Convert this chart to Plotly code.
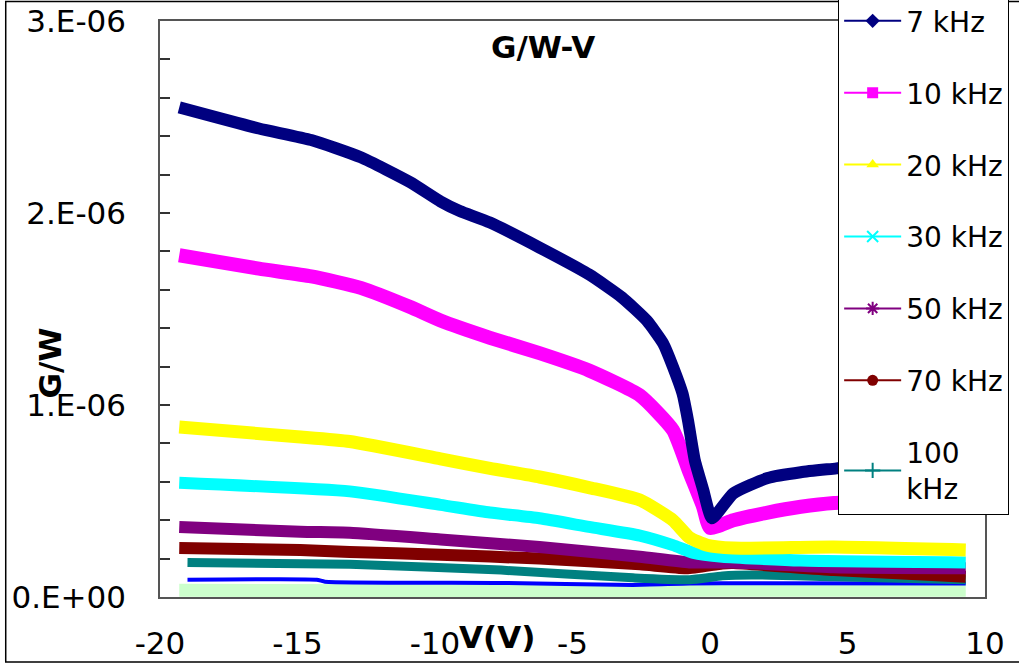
import plotly.graph_objects as go

SCALE = 1e-6  # values below are in units of 1e-6

# ---- data, G/W in 1e-6 units ----
V7 = [-19.3, -16.4, -14.5, -12.7, -10.9, -9.8, -9.1, -8.0, -6.2, -4.4, -3.2, -2.3, -1.7, -1.35, -1.0, -0.8, -0.55, -0.25, 0.07, 0.85, 2.1, 3.3, 4.6, 6.5, 9.3]
G7 = [2.55, 2.44, 2.38, 2.29, 2.16, 2.06, 2.01, 1.95, 1.82, 1.68, 1.56, 1.44, 1.32, 1.20, 1.06, 0.92, 0.71, 0.56, 0.41, 0.54, 0.62, 0.65, 0.67, 0.70, 0.72]

V10 = [-19.3, -16.4, -14.5, -12.7, -10.9, -9.8, -8.0, -6.2, -4.4, -2.55, -1.35, -0.75, -0.25, 0.0, 0.85, 2.1, 3.3, 4.5, 6.5, 9.3]
G10 = [1.78, 1.71, 1.67, 1.61, 1.51, 1.44, 1.35, 1.27, 1.18, 1.05, 0.87, 0.65, 0.47, 0.36, 0.40, 0.44, 0.47, 0.49, 0.50, 0.51]

V20 = [-19.3, -15.0, -13.1, -9.8, -8.0, -6.2, -4.4, -2.55, -1.35, -0.75, -0.1, 0.85, 4.5, 9.3]
G20 = [0.885, 0.835, 0.81, 0.72, 0.67, 0.625, 0.57, 0.505, 0.40, 0.31, 0.27, 0.255, 0.26, 0.245]

V30 = [-19.3, -13.1, -9.8, -8.0, -6.2, -4.4, -2.55, -1.35, -0.6, 0.45, 3.3, 9.3]
G30 = [0.595, 0.55, 0.48, 0.44, 0.41, 0.365, 0.32, 0.27, 0.23, 0.21, 0.19, 0.18]

V50 = [-19.3, -14.9, -13.1, -9.8, -6.2, -2.55, -0.75, 0.85, 4.5, 9.3]
G50 = [0.365, 0.34, 0.335, 0.30, 0.26, 0.21, 0.18, 0.18, 0.155, 0.15]

V70 = [-19.3, -14.9, -13.1, -9.8, -6.2, -2.55, -0.85, 0.45, 0.85, 4.5, 9.3]
G70 = [0.255, 0.245, 0.235, 0.22, 0.20, 0.17, 0.15, 0.175, 0.177, 0.14, 0.105]

V100 = [-19.0, -13.1, -7.6, -2.8, -0.75, 0.45, 1.5, 4.5, 9.3]
G100 = [0.18, 0.17, 0.14, 0.10, 0.09, 0.11, 0.115, 0.105, 0.09]

VB = [-19.0, -14.3, -14.0, -7.6, -2.8, -0.75, 1.5, 9.3]
GB = [0.09, 0.09, 0.08, 0.073, 0.063, 0.07, 0.072, 0.07]

VL = [-19.3, -10.0, 0.0, 9.3]
GL = [0.035, 0.033, 0.035, 0.035]

LEGEND_NAMES = ["7 kHz", "10 kHz", "20 kHz", "30 kHz", "50 kHz", "70 kHz", "100<br>kHz"]
X_TICKS = [-20, -15, -10, -5, 0, 5, 10]
X_TICKTEXT = ["-20", "-15", "-10", "-5", "0", "5", "10"]
Y_TICKVALS = [0, 1, 2, 3]
Y_TICKTEXT = ["0.E+00", "1.E-06", "2.E-06", "3.E-06"]

FONT = "DejaVu Sans, Liberation Sans, Arial, sans-serif"

series = [
    # (x, y, color, width, legend index or None, symbol)
    (VL, GL, "#CCFFCC", 13, None, None),
    (VB, GB, "#0000FF", 4, None, None),
    (V100, G100, "#008080", 9, 6, "cross-thin"),
    (V70, G70, "#800000", 12, 5, "circle"),
    (V50, G50, "#800080", 12, 4, "asterisk"),
    (V30, G30, "#00FFFF", 12, 3, "x-thin"),
    (V20, G20, "#FFFF00", 13, 2, "triangle-up"),
    (V10, G10, "#FF00FF", 14, 1, "square"),
    (V7, G7, "#000080", 12, 0, "diamond"),
]

fig = go.Figure()
for xs, ys, col, w, li, sym in series:
    fig.add_trace(go.Scatter(
        x=xs, y=[v * SCALE for v in ys], mode="lines",
        line=dict(color=col, width=w, shape="spline", smoothing=0.5),
        showlegend=False, hoverinfo="skip"))

# legend entries (line + marker), in legend order
leg = sorted([s for s in series if s[4] is not None], key=lambda s: s[4])
for xs, ys, col, w, li, sym in leg:
    open_sym = sym in ("cross-thin", "x-thin", "asterisk")
    fig.add_trace(go.Scatter(
        x=[None], y=[None], mode="lines+markers", name=LEGEND_NAMES[li],
        legendgroup=str(li),
        line=dict(color=col, width=2),
        marker=dict(symbol=sym, color=col, size=11,
                    line=dict(color=col, width=2 if open_sym else 0))))

fig.update_layout(
    width=1019, height=666,
    margin=dict(l=160, r=34, t=21, b=69, autoexpand=False),
    paper_bgcolor="white", plot_bgcolor="white",
    font=dict(family=FONT, size=31, color="black"),
    legend=dict(x=0.822, xanchor="left", y=1.045, yanchor="top",
                bgcolor="white", bordercolor="black", borderwidth=1,
                font=dict(size=28), traceorder="grouped", tracegroupgap=32.5,
                itemwidth=57, maxheight=640),
    xaxis=dict(range=[-20, 10], tickmode="array", tickvals=X_TICKS,
               ticktext=X_TICKTEXT,
               ticks="", showgrid=False, zeroline=False,
               showline=True, mirror=True, linecolor="#555", linewidth=1.5,
               ticklabelstandoff=18, tickfont=dict(size=31)),
    yaxis=dict(range=[0, 3e-6], tickmode="array",
               tickvals=[v * SCALE for v in Y_TICKVALS], ticktext=Y_TICKTEXT,
               ticks="inside", ticklen=10, tickcolor="#333", tickwidth=1.5,
               minor=dict(dtick=0.2e-6, tick0=0, ticks="inside", ticklen=10,
                          tickcolor="#333", tickwidth=1.5, showgrid=False),
               showgrid=False, zeroline=False,
               showline=True, mirror=True, linecolor="#555", linewidth=1.5,
               ticklabelstandoff=26, tickfont=dict(size=31)),
)

fig.add_annotation(text="<b>G/W-V</b>", xref="paper", yref="paper",
                   x=0.464, y=0.955, xanchor="center", yanchor="middle",
                   showarrow=False, font=dict(size=31))
fig.add_annotation(text="<b>G/W</b>", xref="paper", yref="paper",
                   x=-0.133, y=0.406, xanchor="center", yanchor="middle",
                   showarrow=False, textangle=-90, font=dict(size=31))
fig.add_annotation(text="<b>V(V)</b>", xref="paper", yref="paper",
                   x=0.4085, y=-0.0694, xanchor="center", yanchor="middle",
                   showarrow=False, font=dict(size=31))

# outer chart border
fig.add_shape(type="rect", xref="paper", yref="paper",
              x0=-0.187, y0=-0.113, x1=1.1, y1=1.034,
              line=dict(color="black", width=1.5), fillcolor="rgba(0,0,0,0)",
              layer="below")

fig.write_html("out.html")
